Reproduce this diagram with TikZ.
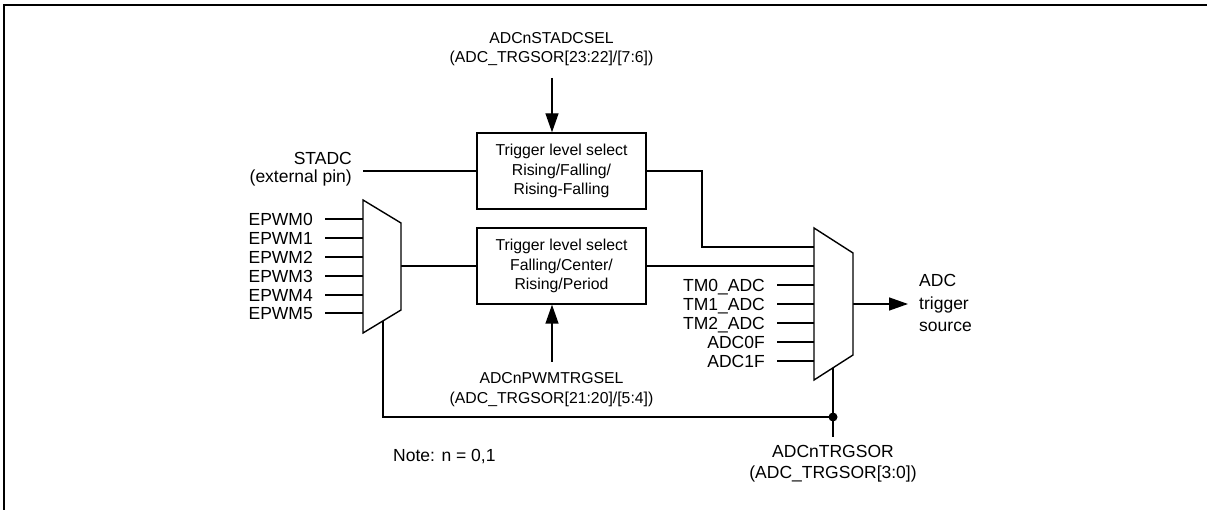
\documentclass[tikz,border=0pt]{standalone}
\usepackage{fontspec}
\setmainfont{Liberation Sans}
\usetikzlibrary{arrows.meta}
\begin{document}
\begin{tikzpicture}[x=1pt,y=-1pt,
  wire/.style={line width=1.4pt},
  arr/.style={wire,-{Triangle[length=19pt,width=13pt]}},
  big/.style={font=\fontsize{17.5}{21}\selectfont, inner sep=0pt},
  small/.style={font=\fontsize{15.8}{19.5}\selectfont, inner sep=0pt},
  selbox/.style={draw, line width=1.4pt, minimum width=169pt, minimum height=76pt,
    align=center, font=\fontsize{15.8}{19.5}\selectfont, inner sep=0pt},
  mux/.style={draw, line width=1.4pt, fill=white, line join=miter}]
\useasboundingbox (0,0) rectangle (1207,510);
% frame
\draw[line width=2pt] (3.5,510) -- (3.5,5) -- (1207,5);

% selection boxes
\node[selbox] (tbox) at (561.5,171) {Trigger level select\\Rising/Falling/\\Rising-Falling};
\node[selbox] (bbox) at (561.5,266) {Trigger level select\\Falling/Center/\\Rising/Period};

% top control
\coordinate (tsel) at (552,78);
\draw[arr] (tsel) -- (tsel |- tbox.north);
\node[small, anchor=base] (tsl1) at (551.5,44) {ADCnSTADCSEL};
\node[small, anchor=base] (tsl2) at (551.5,62.5) {(ADC\_TRGSOR[23:22]/[7:6])};

% bottom control
\coordinate (bsel) at (552,362);
\draw[arr] (bsel) -- (bsel |- bbox.south);
\node[small, anchor=base] (bsl1) at (551.5,384) {ADCnPWMTRGSEL};
\node[small, anchor=base] (bsl2) at (551.5,403.5) {(ADC\_TRGSOR[21:20]/[5:4])};

% STADC
\coordinate (stin) at (363,171);
\draw[wire] (stin) -- (tbox.west);
\node[big, anchor=base east] (stadc1) at (352,165) {STADC};
\node[big, anchor=base east] (stadc2) at (352,183) {(external pin)};

% left mux coordinates
\coordinate (lm1) at (363,200);
\coordinate (lm2) at (401,223);
\coordinate (lm3) at (401,310);
\coordinate (lm4) at (363,333);
\foreach \i/\y in {0/219,1/238,2/257,3/276,4/295,5/313}{
  \coordinate (ei\i) at (325,\y);
  \draw[wire] (ei\i) -- (ei\i -| lm1);
  \node[big, anchor=base east] (el\i) at (313,\y+6.2) {EPWM\i};
}
\coordinate (lmo) at (401,266);
\draw[wire] (lmo) -- (bbox.west);

% right mux coordinates
\coordinate (rm1) at (814,228);
\coordinate (rm2) at (853,253);
\coordinate (rm3) at (853,355);
\coordinate (rm4) at (814,380);
\coordinate (tj) at (702,171);
\coordinate (rin0) at (814,247);
\draw[wire] (tbox.east) -- (tj) |- (rin0);
\draw[wire] (bbox.east) -- (bbox.east -| rm1);
\foreach \i/\y/\t in {2/285/TM0\_ADC,3/304/TM1\_ADC,4/323/TM2\_ADC,5/342/ADC0F,6/361/ADC1F}{
  \coordinate (ri\i) at (777,\y);
  \draw[wire] (ri\i) -- (ri\i -| rm1);
  \node[big, anchor=base east] (rl\i) at (765,\y+6.2) {\t};
}
\coordinate (rmo) at (853,304);
\coordinate (outend) at (908,304);
\draw[arr] (rmo) -- (outend);
\node[big, anchor=base west] (out1) at (919,287) {ADC};
\node[big, anchor=base west] (out2) at (919,309.5) {trigger};
\node[big, anchor=base west] (out3) at (919,332) {source};

% select lines
\coordinate (ls) at (383,321);
\coordinate (lc) at (383,417);
\coordinate (dot) at (833,417);
\coordinate (rs) at (833,368);
\coordinate (send) at (833,437);
\draw[wire] (ls) -- (lc) -- (dot);
\draw[wire] (rs) -- (send);
\fill (dot) circle (4.5pt);

% muxes on top
\draw[mux] (lm1) -- (lm2) -- (lm3) -- (lm4) -- cycle;
\draw[mux] (rm1) -- (rm2) -- (rm3) -- (rm4) -- cycle;

\node[big, anchor=base] (sor1) at (833,457) {ADCnTRGSOR};
\node[big, anchor=base] (sor2) at (833,478) {(ADC\_TRGSOR[3:0])};

\node[big, anchor=base west] (note) at (393,461) {Note: n = 0,1};
\end{tikzpicture}
\end{document}
